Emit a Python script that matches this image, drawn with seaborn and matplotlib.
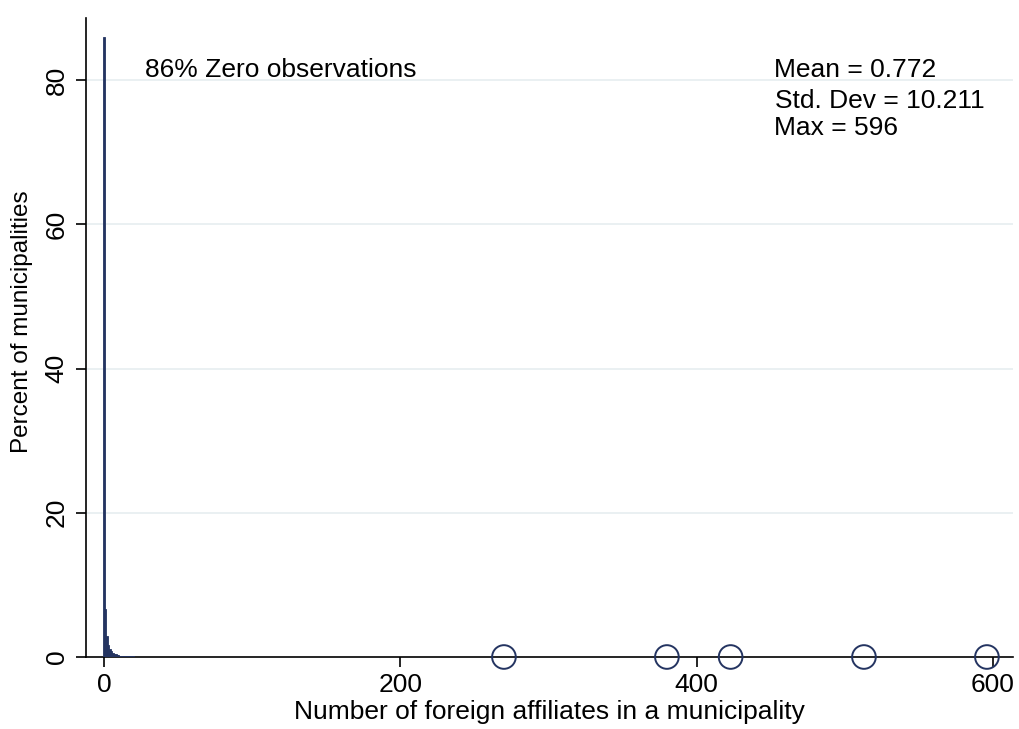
import numpy as np
import pandas as pd
import matplotlib
matplotlib.use("Agg")
import matplotlib.pyplot as plt
import seaborn as sns

# ---- data ----
bin_values = [0, 1, 2, 3, 4, 5, 6, 7, 8, 9, 10, 11, 12, 13, 14, 15, 16, 17, 18, 19, 20,
              21, 22, 23, 24, 25, 26, 27, 28, 30, 32, 34, 36, 38, 40, 42, 45, 47, 49,
              66, 84, 102, 109, 117, 139, 270, 380, 423, 513, 596]
bin_percent = [86.0, 6.6, 2.9, 1.7, 1.1, 0.8, 0.6, 0.45, 0.36, 0.3, 0.25, 0.2, 0.18, 0.16,
               0.14, 0.12, 0.11, 0.1, 0.09, 0.08, 0.07, 0.06, 0.06, 0.05, 0.05, 0.04, 0.04,
               0.04, 0.03, 0.03, 0.03, 0.03, 0.02, 0.02, 0.02, 0.02, 0.02, 0.02, 0.02,
               0.016, 0.016, 0.016, 0.016, 0.016, 0.016, 0.016, 0.016, 0.016, 0.016, 0.016]
outliers = [270, 380, 423, 513, 596]
x_ticks = [0, 200, 400, 600]
y_ticks = [0, 20, 40, 60, 80]
note_zero = "86% Zero observations"
stats_lines = ["Mean = 0.772", "Std. Dev = 10.211", "Max = 596"]

navy = "#243461"
fs = 19

sns.set_theme(style="white")
plt.rcParams["font.family"] = ["Liberation Sans", "DejaVu Sans"]
plt.rcParams["text.color"] = "black"
plt.rcParams["axes.labelcolor"] = "black"

fig = plt.figure(figsize=(10.19, 7.29), dpi=100)
ax = fig.add_axes([86 / 1019, 1 - 657 / 729, (1013 - 86) / 1019, (657 - 18) / 729])

df = pd.DataFrame({"x": bin_values, "w": bin_percent})
sns.histplot(data=df, x="x", weights="w", discrete=True, color=navy, alpha=1,
             edgecolor=navy, linewidth=0.6, ax=ax, zorder=3)

ax.scatter(outliers, [0] * len(outliers), s=290, facecolors="none",
           edgecolors=navy, linewidths=1.4, clip_on=False, zorder=4)

ax.set_xlim(-12.1, 613.6)
ax.set_ylim(0, 88.6)
ax.set_xticks(x_ticks)
ax.set_yticks(y_ticks)
ax.tick_params(axis="both", direction="out", length=7.5, width=1.2, colors="black",
               labelsize=fs, bottom=True, left=True)
for lab in ax.get_yticklabels():
    lab.set_rotation(90)
    lab.set_va("center")
ax.tick_params(axis="y", pad=5)
ax.tick_params(axis="x", pad=4)

for yv in y_ticks[1:]:
    ax.axhline(yv, color="#e6eef0", linewidth=1.2, zorder=1)

for side in ["top", "right"]:
    ax.spines[side].set_visible(False)
for side in ["left", "bottom"]:
    ax.spines[side].set_color("black")
    ax.spines[side].set_linewidth(1.2)

ax.set_xlabel("Number of foreign affiliates in a municipality", fontsize=fs, labelpad=2)
ax.set_ylabel("Percent of municipalities", fontsize=17.5)
ax.yaxis.set_label_coords(-0.057, 0.524)

ax.text(27.7, 81.4, note_zero, fontsize=fs, va="center", ha="left")
ys = [81.4, 77.1, 73.4]
xs = [452, 453, 452]
for t, xv, yv in zip(stats_lines, xs, ys):
    ax.text(xv, yv, t, fontsize=fs, va="center", ha="left")

fig.savefig("out.png", dpi=100, facecolor="white")
